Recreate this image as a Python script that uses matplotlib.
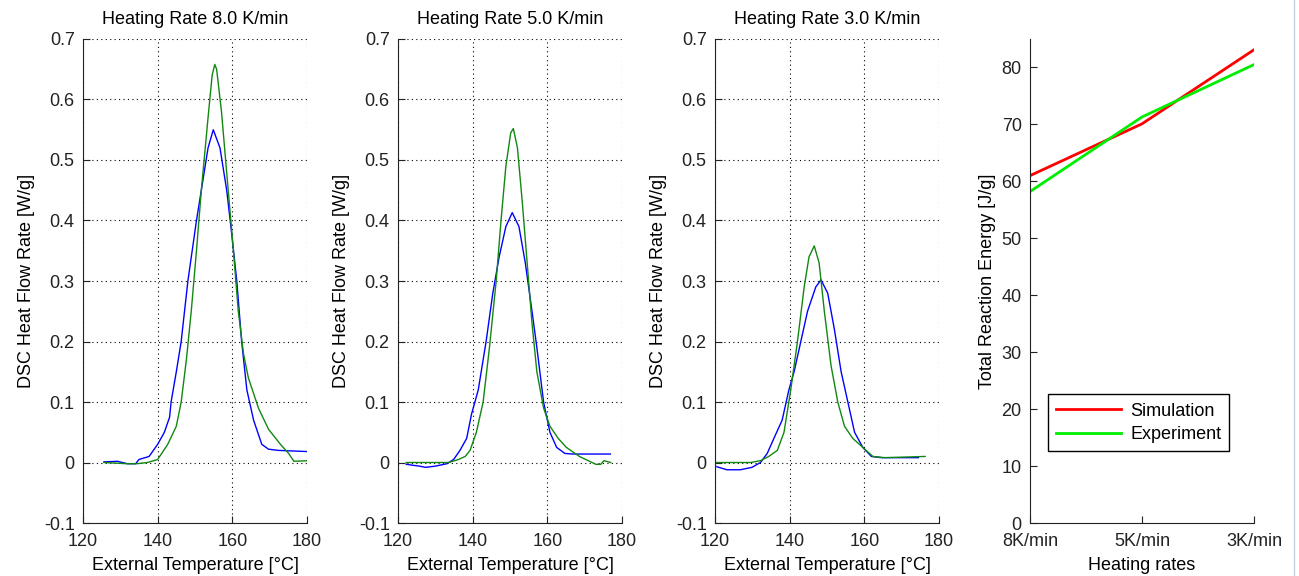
import matplotlib
matplotlib.use("Agg")
import matplotlib.pyplot as plt
from matplotlib.lines import Line2D
import numpy as np

plt.rcParams['font.family'] = ['Liberation Sans', 'DejaVu Sans']

titles = ["Heating Rate 8.0 K/min", "Heating Rate 5.0 K/min", "Heating Rate 3.0 K/min"]

# Panel 1 (8 K/min)
t_sim_8 = [125.6, 129.2, 131.9, 134.1, 135.0, 137.7, 140.0, 141.8, 143.2, 143.6, 145.0, 146.3,
           148.1, 150.4, 151.7, 153.5, 154.9, 156.7, 158.5, 159.8, 161.2, 162.5, 163.9, 165.7,
           167.9, 169.7, 172.4, 180.5]
q_sim_8 = [0.001, 0.002, -0.002, -0.002, 0.005, 0.010, 0.030, 0.050, 0.075, 0.100, 0.150, 0.200,
           0.300, 0.400, 0.450, 0.520, 0.550, 0.520, 0.450, 0.380, 0.300, 0.200, 0.120, 0.070,
           0.030, 0.022, 0.020, 0.018]
t_exp_8 = [125.6, 131.9, 134.4, 137.3, 140.0, 142.7, 145.0, 146.3, 147.7, 149.0, 150.4, 151.7,
           153.5, 154.6, 155.3, 155.8, 157.1, 158.9, 160.3, 161.6, 163.0, 164.3, 167.0, 169.7,
           172.9, 175.1, 176.5, 180.5]
q_exp_8 = [0.000, -0.002, -0.002, 0.000, 0.005, 0.030, 0.060, 0.100, 0.170, 0.250, 0.350, 0.450,
           0.570, 0.640, 0.658, 0.650, 0.580, 0.450, 0.350, 0.250, 0.180, 0.140, 0.090, 0.055,
           0.030, 0.015, 0.002, 0.003]

# Panel 2 (5 K/min)
t_sim_5 = [122.2, 125.7, 127.4, 130.0, 133.1, 134.9, 136.6, 138.4, 139.7, 141.5, 143.6, 145.4,
           147.1, 148.9, 150.6, 152.4, 154.1, 155.9, 157.2, 159.0, 160.7, 162.5, 164.7, 166.8, 176.9]
q_sim_5 = [-0.003, -0.006, -0.008, -0.006, -0.002, 0.005, 0.020, 0.040, 0.080, 0.120, 0.200, 0.280,
           0.340, 0.390, 0.413, 0.390, 0.330, 0.250, 0.190, 0.100, 0.050, 0.025, 0.015, 0.014, 0.014]
t_exp_5 = [122.2, 133.6, 136.2, 138.0, 139.3, 141.0, 142.8, 144.5, 146.3, 147.6, 148.9, 150.2,
           150.9, 152.0, 153.3, 154.6, 155.9, 157.2, 159.0, 160.7, 162.9, 165.1, 168.6, 173.0,
           174.3, 175.2, 177.0]
q_exp_5 = [0.000, 0.000, 0.005, 0.010, 0.020, 0.050, 0.100, 0.190, 0.300, 0.400, 0.490, 0.545,
           0.552, 0.520, 0.430, 0.330, 0.230, 0.150, 0.090, 0.060, 0.040, 0.025, 0.010, -0.003,
           -0.003, 0.003, 0.000]

# Panel 3 (3 K/min)
t_sim_3 = [120.5, 123.2, 126.8, 129.9, 132.2, 134.0, 135.8, 138.0, 139.8, 141.2, 143.0, 144.8,
           147.0, 148.4, 150.2, 152.0, 153.8, 155.6, 157.4, 159.6, 161.9, 164.6, 174.5]
q_sim_3 = [-0.007, -0.012, -0.012, -0.008, 0.000, 0.015, 0.040, 0.070, 0.120, 0.150, 0.200, 0.250,
           0.290, 0.302, 0.280, 0.220, 0.150, 0.100, 0.050, 0.025, 0.010, 0.008, 0.008]
t_exp_3 = [120.5, 129.5, 132.2, 134.4, 136.7, 138.5, 140.3, 142.1, 143.9, 145.2, 146.6, 147.9,
           149.3, 151.1, 152.9, 154.7, 156.9, 159.6, 162.3, 165.5, 176.3]
q_exp_3 = [0.000, 0.000, 0.003, 0.010, 0.020, 0.050, 0.120, 0.200, 0.290, 0.340, 0.358, 0.330,
           0.250, 0.160, 0.100, 0.060, 0.040, 0.025, 0.010, 0.008, 0.010]

sim_t = [t_sim_8, t_sim_5, t_sim_3]
sim_q = [q_sim_8, q_sim_5, q_sim_3]
exp_t = [t_exp_8, t_exp_5, t_exp_3]
exp_q = [q_exp_8, q_exp_5, q_exp_3]

# Panel 4
rate_labels = ["8K/min", "5K/min", "3K/min"]
energy_sim = [61.0, 70.1, 83.1]
energy_exp = [58.2, 71.3, 80.5]

fig = plt.figure(figsize=(12.99, 5.76), dpi=100)
fs = 13

lefts = [0.0639, 0.3064, 0.5504]
width = 0.1724
bottom = 0.092
height = 0.8403

for i in range(3):
    ax = fig.add_axes([lefts[i], bottom, width, height])
    ax.plot(sim_t[i], sim_q[i], color='#0000ff', lw=1.0)
    ax.plot(exp_t[i], exp_q[i], color='#118811', lw=1.0)
    ax.set_xlim(120, 180)
    ax.set_ylim(-0.1, 0.7)
    ax.set_xticks([120, 140, 160, 180])
    ax.set_yticks(np.round(np.arange(-0.1, 0.71, 0.1), 1))
    ax.set_yticklabels(["-0.1", "0", "0.1", "0.2", "0.3", "0.4", "0.5", "0.6", "0.7"])
    ax.grid(True, color='black', linestyle=(0, (1, 3)), linewidth=0.8)
    ax.spines['top'].set_visible(False)
    ax.spines['right'].set_visible(False)
    for s in ['left', 'bottom']:
        ax.spines[s].set_color('#222222')
    ax.tick_params(direction='in', length=5, labelsize=fs, colors='#222222')
    ax.tick_params(axis='y', pad=6)
    ax.tick_params(axis='x', pad=7)
    ax.set_title(titles[i], fontsize=fs, pad=11)
    ax.set_xlabel("External Temperature [\u00b0C]", fontsize=fs, labelpad=5)
    ax.set_ylabel("DSC Heat Flow Rate [W/g]", fontsize=fs, labelpad=6)

ax4 = fig.add_axes([0.7929, bottom, width, height])
xr = np.arange(len(rate_labels))
ax4.plot(xr, energy_sim, color='#ff0000', lw=2, label='Simulation')
ax4.plot(xr, energy_exp, color='#00ee00', lw=2, label='Experiment')
ax4.set_xlim(0, 2)
ax4.set_ylim(0, 85)
ax4.set_yticks(np.arange(0, 81, 10))
ax4.set_xticks(xr)
ax4.set_xticklabels(rate_labels)
ax4.spines['top'].set_visible(False)
ax4.spines['right'].set_visible(False)
for s in ['left', 'bottom']:
    ax4.spines[s].set_color('#222222')
ax4.tick_params(direction='in', length=5, labelsize=fs, colors='#222222')
ax4.tick_params(axis='y', pad=6)
ax4.tick_params(axis='x', pad=7)
ax4.set_xlabel("Heating rates", fontsize=fs, labelpad=5)
ax4.set_ylabel("Total Reaction Energy [J/g]", fontsize=fs, labelpad=4)
leg = ax4.legend(loc='lower left', bbox_to_anchor=(0.04, 0.13), fontsize=fs, fancybox=False,
                 edgecolor='black', framealpha=1, handlelength=3.6, borderpad=0.45,
                 labelspacing=0.35, handletextpad=0.5)
leg.get_frame().set_linewidth(1.0)

fig.add_artist(Line2D([1293.5 / 1299, 1293.5 / 1299], [0, 1], color='#c8d0da', lw=1))

fig.savefig("out.png", dpi=100)
